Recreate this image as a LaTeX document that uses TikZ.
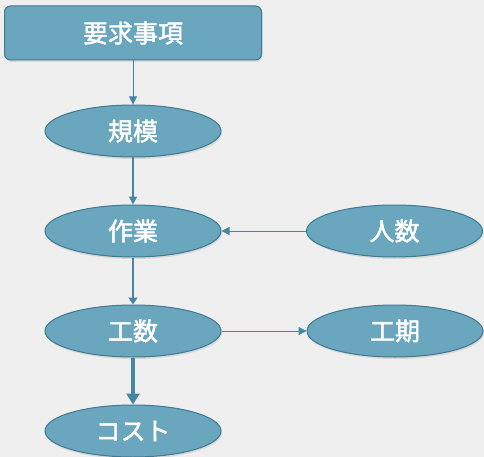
\documentclass[tikz,border=0pt]{standalone}
\usepackage{fontspec}
\setmainfont[FakeBold=1.8]{Noto Sans CJK JP}
\usetikzlibrary{arrows.meta,shapes.geometric,shadows}
\definecolor{itemfill}{RGB}{106,166,189}
\definecolor{itemline}{RGB}{62,122,146}
\definecolor{linkline}{RGB}{70,134,160}
\definecolor{paper}{RGB}{239,239,239}
\tikzstyle{item}=[ellipse, fill=itemfill, draw=itemline, line width=1pt, inner sep=0pt, minimum width=176pt, minimum height=52pt, text=white, font=\fontsize{25}{25}\selectfont, drop shadow={opacity=0.2, shadow xshift=1pt, shadow yshift=-2pt}]
\tikzstyle{head}=[rectangle, rounded corners=6pt, fill=itemfill, draw=itemline, line width=1pt, inner sep=0pt, minimum width=257pt, minimum height=54pt, text=white, font=\fontsize{25}{25}\selectfont, drop shadow={opacity=0.2, shadow xshift=1pt, shadow yshift=-2pt}]
\newcommand{\elem}{\node[item]}

\begin{document}
\begin{tikzpicture}[x=1pt, y=-1pt, every edge/.style={ draw=linkline, -{Triangle[length=8pt,width=8pt]} } ]
\fill[paper] (0,0) rectangle (484,457);
\useasboundingbox (0,0) rectangle (484,457);
\node[head] (req) at (133,33) {要求事項};
\elem (size) at (133,131) {規模};
\elem (work) at (133,231) {作業};
\elem (staff) at (394.5,231) {人数};
\elem (effort) at (133,331) {工数};
\elem (term) at (395,331) {工期};
\elem (cost) at (133,431) {コスト};
\path
(req) edge [line width=1pt] (size)
(size) edge [line width=1.5pt] (work)
(staff) edge [line width=1pt] (work)
(work) edge [line width=2.5pt, -{Triangle[length=7pt,width=9pt]}] (effort)
(effort) edge [line width=1pt] (term)
(effort) edge [line width=4.5pt, -{Triangle[length=11pt,width=13pt]}] (cost)
;
\end{tikzpicture}
\end{document}
